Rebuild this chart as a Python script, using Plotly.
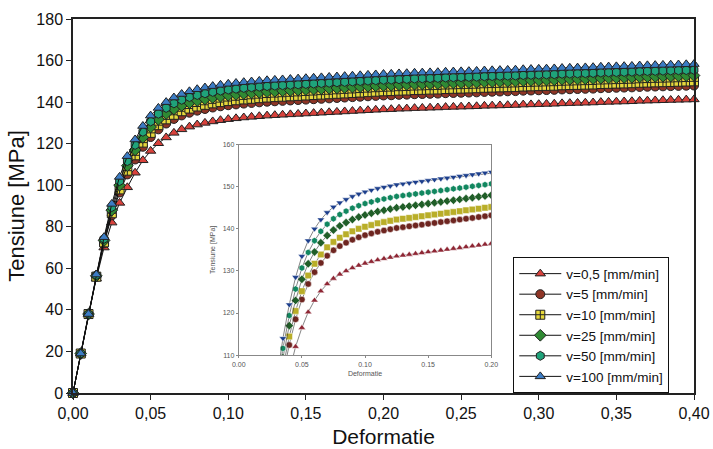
import plotly.graph_objects as go

# Strain values shared by all tests
STRAIN = [
    0.000, 0.005, 0.010, 0.015, 0.020, 0.025, 0.030, 0.035, 0.040, 0.045,
    0.050, 0.055, 0.060, 0.065, 0.070, 0.075, 0.080, 0.085, 0.090, 0.095,
    0.100, 0.105, 0.110, 0.115, 0.120, 0.125, 0.130, 0.135, 0.140, 0.145,
    0.150, 0.155, 0.160, 0.165, 0.170, 0.175, 0.180, 0.185, 0.190, 0.195,
    0.200, 0.205, 0.210, 0.215, 0.220, 0.225, 0.230, 0.235, 0.240, 0.245,
    0.250, 0.255, 0.260, 0.265, 0.270, 0.275, 0.280, 0.285, 0.290, 0.295,
    0.300, 0.305, 0.310, 0.315, 0.320, 0.325, 0.330, 0.335, 0.340, 0.345,
    0.350, 0.355, 0.360, 0.365, 0.370, 0.375, 0.380, 0.385, 0.390, 0.395,
    0.400,
]

# Stress [MPa] for each crosshead speed
STRESS_V0_5 = [
    0, 19, 38, 55, 70, 82, 91.5, 99, 106, 112,
    116.5, 120.2, 123.0, 125.2, 126.9, 128.2, 129.2, 130.0, 130.7, 131.3,
    131.8, 132.2, 132.6, 132.9, 133.2, 133.5, 133.7, 133.9, 134.1, 134.3,
    134.5, 134.7, 134.9, 135.1, 135.3, 135.5, 135.7, 135.9, 136.1, 136.3,
    136.5, 136.6, 136.8, 136.9, 137.1, 137.2, 137.3, 137.4, 137.6, 137.7,
    137.8, 137.9, 138.0, 138.2, 138.3, 138.4, 138.5, 138.6, 138.8, 138.9,
    139.0, 139.1, 139.2, 139.4, 139.5, 139.6, 139.7, 139.8, 140.0, 140.1,
    140.2, 140.3, 140.4, 140.6, 140.7, 140.8, 140.9, 141.0, 141.1, 141.2,
    141.3,
]
STRESS_V5 = [
    0, 19, 38, 55.8, 72, 85.5, 96.5, 105.2, 112.4, 118.5,
    123.2, 126.9, 129.7, 131.9, 133.6, 134.9, 135.9, 136.7, 137.4, 138.0,
    138.5, 138.9, 139.3, 139.6, 139.9, 140.2, 140.4, 140.6, 140.8, 141.0,
    141.2, 141.4, 141.6, 141.8, 142.0, 142.2, 142.4, 142.6, 142.8, 143.0,
    143.2, 143.3, 143.5, 143.6, 143.8, 143.9, 144.0, 144.1, 144.3, 144.4,
    144.5, 144.6, 144.7, 144.9, 145.0, 145.1, 145.2, 145.3, 145.5, 145.6,
    145.7, 145.8, 145.9, 146.1, 146.2, 146.3, 146.4, 146.5, 146.7, 146.8,
    146.9, 147.0, 147.1, 147.3, 147.4, 147.5, 147.6, 147.7, 147.8, 147.9,
    148.0,
]
STRESS_V10 = [
    0, 19, 38, 56, 72.5, 86.5, 98, 107, 114.4, 120.5,
    125.2, 128.9, 131.7, 133.9, 135.6, 136.9, 137.9, 138.7, 139.4, 140.0,
    140.5, 140.9, 141.3, 141.6, 141.9, 142.2, 142.4, 142.6, 142.8, 143.0,
    143.2, 143.4, 143.6, 143.8, 144.0, 144.2, 144.4, 144.6, 144.8, 145.0,
    145.2, 145.3, 145.5, 145.6, 145.8, 145.9, 146.0, 146.1, 146.3, 146.4,
    146.5, 146.6, 146.7, 146.9, 147.0, 147.1, 147.2, 147.3, 147.5, 147.6,
    147.7, 147.8, 147.9, 148.1, 148.2, 148.3, 148.4, 148.5, 148.7, 148.8,
    148.9, 149.0, 149.1, 149.3, 149.4, 149.5, 149.6, 149.7, 149.8, 149.9,
    150.0,
]
STRESS_V25 = [
    0, 19, 38, 56.4, 73.4, 88, 100, 109.4, 117, 123.0,
    128.0, 131.7, 134.5, 136.7, 138.4, 139.7, 140.7, 141.5, 142.2, 142.8,
    143.3, 143.7, 144.1, 144.4, 144.7, 145.0, 145.2, 145.4, 145.6, 145.8,
    146.0, 146.2, 146.4, 146.6, 146.8, 147.0, 147.2, 147.4, 147.6, 147.8,
    148.0, 148.1, 148.3, 148.4, 148.6, 148.7, 148.8, 148.9, 149.1, 149.2,
    149.3, 149.4, 149.5, 149.7, 149.8, 149.9, 150.0, 150.1, 150.3, 150.4,
    150.5, 150.6, 150.7, 150.9, 151.0, 151.1, 151.2, 151.3, 151.5, 151.6,
    151.7, 151.8, 151.9, 152.1, 152.2, 152.3, 152.4, 152.5, 152.6, 152.7,
    152.8,
]
STRESS_V50 = [
    0, 19, 38, 56.7, 74.2, 89.5, 102, 111.6, 119.4, 125.7,
    130.7, 134.4, 137.2, 139.4, 141.1, 142.4, 143.4, 144.2, 144.9, 145.5,
    146.0, 146.4, 146.8, 147.1, 147.4, 147.7, 147.9, 148.1, 148.3, 148.5,
    148.7, 148.9, 149.1, 149.3, 149.5, 149.7, 149.9, 150.1, 150.3, 150.5,
    150.7, 150.8, 151.0, 151.1, 151.3, 151.4, 151.5, 151.6, 151.8, 151.9,
    152.0, 152.1, 152.2, 152.4, 152.5, 152.6, 152.7, 152.8, 153.0, 153.1,
    153.2, 153.3, 153.4, 153.6, 153.7, 153.8, 153.9, 154.0, 154.2, 154.3,
    154.4, 154.5, 154.6, 154.8, 154.9, 155.0, 155.1, 155.2, 155.3, 155.4,
    155.5,
]
STRESS_V100 = [
    0, 19, 38, 57, 75, 91, 104, 114, 122, 128.5,
    133.5, 137.2, 140.0, 142.2, 143.9, 145.2, 146.2, 147.0, 147.7, 148.3,
    148.8, 149.2, 149.6, 149.9, 150.2, 150.5, 150.7, 150.9, 151.1, 151.3,
    151.5, 151.7, 151.9, 152.1, 152.3, 152.5, 152.7, 152.9, 153.1, 153.3,
    153.5, 153.6, 153.8, 153.9, 154.1, 154.2, 154.3, 154.4, 154.6, 154.7,
    154.8, 154.9, 155.0, 155.2, 155.3, 155.4, 155.5, 155.6, 155.8, 155.9,
    156.0, 156.1, 156.2, 156.4, 156.5, 156.6, 156.7, 156.8, 157.0, 157.1,
    157.2, 157.3, 157.4, 157.6, 157.7, 157.8, 157.9, 158.0, 158.1, 158.2,
    158.3,
]

SERIES_NAMES = [
    "v=0,5 [mm/min]", "v=5 [mm/min]", "v=10 [mm/min]",
    "v=25 [mm/min]", "v=50 [mm/min]", "v=100 [mm/min]",
]
SERIES_VALUES = [STRESS_V0_5, STRESS_V5, STRESS_V10, STRESS_V25, STRESS_V50, STRESS_V100]

X_TICKS = [0.00, 0.05, 0.10, 0.15, 0.20, 0.25, 0.30, 0.35, 0.40]
Y_TICKS = [0, 20, 40, 60, 80, 100, 120, 140, 160, 180]
INSET_X_TICKS = [0.00, 0.05, 0.10, 0.15, 0.20]
INSET_X_LABELS = ["0.00", "0.05", "0.10", "0.15", "0.20"]
INSET_Y_TICKS = [110, 120, 130, 140, 150, 160]

# marker styling per series: (symbol, main fill, inset symbol, inset fill)
STYLES = [
    ("triangle-up", "#d8423c", "triangle-up", "#8e2634"),
    ("circle", "#8e3526", "circle", "#6e2520"),
    ("square-cross", "#e6d83c", "square", "#b9ae28"),
    ("diamond", "#2f8a33", "diamond", "#205e28"),
    ("hexagon", "#1fa37a", "hexagon", "#11875f"),
    ("triangle-up", "#3c7cc4", "triangle-down", "#1d3f8c"),
]

FONT = "Liberation Sans, Arial, sans-serif"

fig = go.Figure()

for name, vals, (sym, col, isym, icol) in zip(SERIES_NAMES, SERIES_VALUES, STYLES):
    fig.add_trace(go.Scatter(
        x=STRAIN, y=vals, name=name, mode="lines+markers",
        line=dict(color="#111111", width=1),
        marker=dict(symbol=sym, size=9, color=col,
                    line=dict(color="#222222", width=1)),
        cliponaxis=False, xaxis="x", yaxis="y",
    ))

for name, vals, (sym, col, isym, icol) in zip(SERIES_NAMES, SERIES_VALUES, STYLES):
    fig.add_trace(go.Scatter(
        x=STRAIN, y=vals, name=name, mode="lines+markers", showlegend=False,
        line=dict(color="#333333", width=0.6),
        marker=dict(symbol=isym, size=6.5, color=icol,
                    line=dict(color="#ffffff", width=0.5)),
        cliponaxis=True, xaxis="x2", yaxis="y2",
    ))

fig.update_layout(
    width=713, height=449,
    margin=dict(l=73, r=19, t=19, b=56, autoexpand=False),
    paper_bgcolor="white", plot_bgcolor="white",
    separators=",.",
    font=dict(family=FONT, color="#111111"),
    showlegend=True,
    legend=dict(
        x=0.709, y=0.3627, xanchor="left", yanchor="top",
        bgcolor="white", bordercolor="#111111", borderwidth=1,
        font=dict(family=FONT, size=13.5, color="#111111"),
        itemwidth=42, traceorder="normal",
    ),
    xaxis=dict(
        domain=[0, 1], range=[0, 0.40], tickvals=X_TICKS, tickformat=".2f",
        automargin=False,
        showgrid=False, zeroline=False, showline=True, linecolor="#222222",
        linewidth=1.5, mirror=True, ticks="outside", ticklen=5,
        tickcolor="#222222", tickfont=dict(size=16, family=FONT),
        title=dict(text="Deformatie", font=dict(size=21, family=FONT), standoff=8),
    ),
    yaxis=dict(
        domain=[0, 1], range=[0, 180], tickvals=Y_TICKS,
        automargin=False,
        showgrid=False, zeroline=False, showline=True, linecolor="#222222",
        linewidth=1.5, mirror=True, ticks="outside", ticklen=5,
        tickcolor="#222222", tickfont=dict(size=16, family=FONT),
        title=dict(text="Tensiune [MPa]", font=dict(size=22, family=FONT), standoff=6),
    ),
    xaxis2=dict(
        domain=[0.2669, 0.6736], anchor="y2", range=[0, 0.20],
        tickvals=INSET_X_TICKS, ticktext=INSET_X_LABELS, automargin=False,
        showgrid=False, zeroline=False, showline=True, linecolor="#888888",
        linewidth=1, mirror=True, ticks="outside", ticklen=2,
        tickcolor="#888888", tickfont=dict(size=7, color="#555555", family=FONT),
        title=dict(text="Deformatie", font=dict(size=7, color="#555555", family=FONT),
                   standoff=4),
    ),
    yaxis2=dict(
        domain=[0.1013, 0.664], anchor="x2", range=[110, 160],
        tickvals=INSET_Y_TICKS, automargin=False,
        showgrid=False, zeroline=False, showline=True, linecolor="#888888",
        linewidth=1, mirror=True, ticks="outside", ticklen=2,
        tickcolor="#888888", tickfont=dict(size=7, color="#555555", family=FONT),
        title=dict(text="Tensiune [MPa]", font=dict(size=7, color="#555555", family=FONT),
                   standoff=6),
    ),
)

fig.write_html("out.html")
